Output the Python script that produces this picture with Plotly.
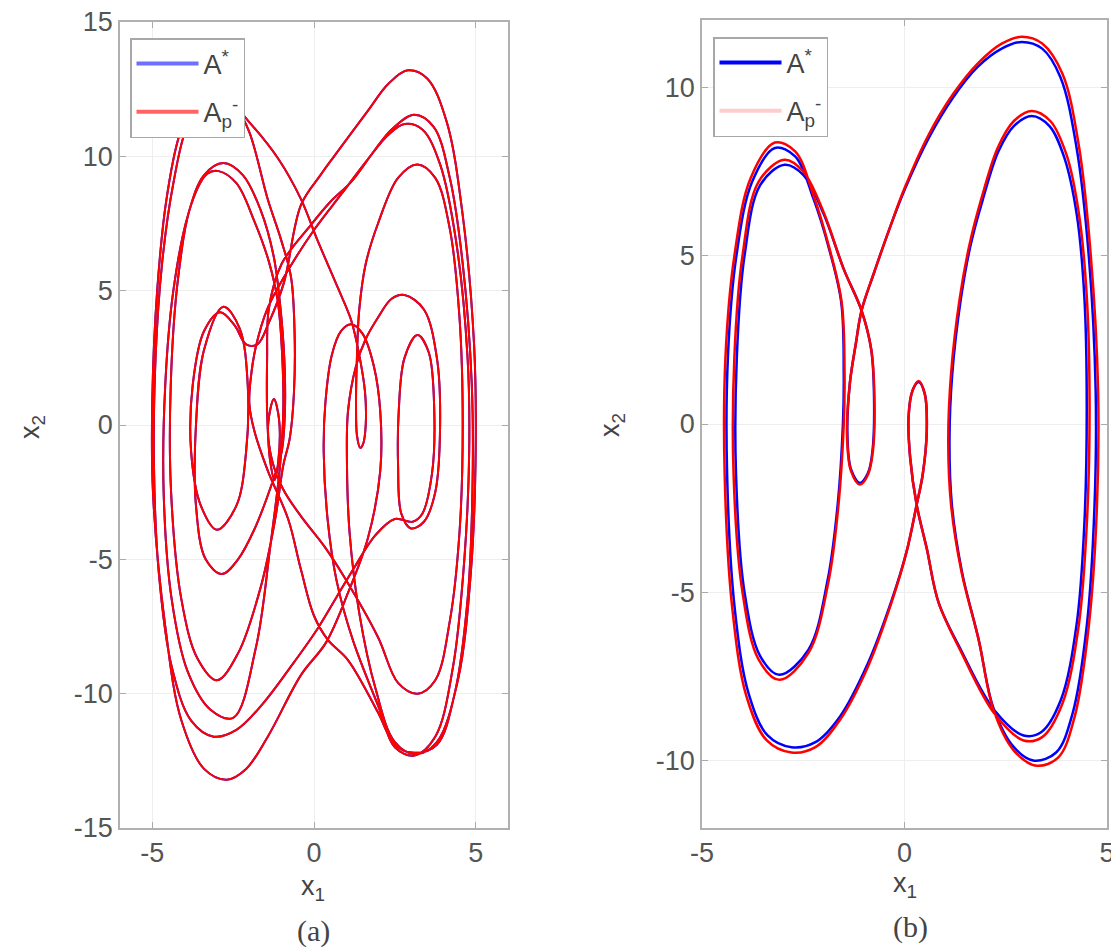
import plotly.graph_objects as go

# ---- panel (a): trajectory, (x1, x2) waypoints ----
# A* and Ap- coincide in (a), the blue curve is hidden under the red one
a_seg1 = [(-3.1, -11.6), (-3.8, -11.0), (-4.4, -9.0), (-4.8, -5.5), (-4.95, -1.5), (-4.9, 2.5),
          (-4.7, 6.0), (-4.35, 9.0), (-3.9, 11.2), (-3.3, 12.2), (-2.6, 12.0), (-1.95, 11.2),
          (-1.1, 9.9), (-0.4, 8.4), (0.1, 6.9), (0.74, 5.1), (1.15, 3.9), (1.4, 2.6), (1.58, 1.2),
          (1.6, 0.0), (1.52, -0.7), (1.43, -0.85), (1.33, -0.4), (1.3, 0.8), (1.33, 2.6),
          (1.4, 4.3), (1.6, 6.0), (1.98, 7.5), (2.6, 9.2), (3.2, 9.7), (3.75, 9.2), (4.2, 7.3),
          (4.5, 4.0), (4.6, 0.0), (4.5, -4.0), (4.2, -7.3), (3.75, -9.5), (3.2, -10.0), (2.6, -9.6)]
a_seg2 = [(1.98, -7.9), (0.93, -5.65), (0.31, -4.5), (-0.4, -3.4), (-0.95, -2.4), (-1.3, -1.3),
          (-1.42, 0.0), (-1.24, 0.97), (-1.08, 0.2), (-1.1, -1.3), (-1.22, -2.05), (-1.36, -1.3),
          (-1.45, 0.5), (-1.45, 2.5), (-1.4, 4.3), (-1.0, 6.0), (-0.1, 7.44), (0.5, 8.3),
          (1.15, 9.05), (1.8, 10.1), (2.4, 11.0), (3.1, 11.55), (3.7, 11.1), (4.2, 9.2),
          (4.6, 6.0), (4.88, 1.5), (4.9, -2.5), (4.75, -6.5), (4.35, -10.0), (3.8, -11.9),
          (3.1, -12.2), (2.5, -11.9)]
a_seg3 = [(1.98, -10.7), (1.05, -8.75), (0.43, -8.0), (0.0, -7.1), (-0.4, -5.4), (-0.8, -3.5),
          (-1.43, -1.7), (-1.85, -0.2), (-2.0, 0.8), (-1.95, 1.8), (-1.8, 2.9), (-1.45, 4.3),
          (-0.93, 5.5), (0.0, 7.26), (0.85, 8.6), (1.67, 9.9), (2.3, 10.8), (2.8, 11.2),
          (3.35, 11.0), (3.9, 9.7), (4.4, 6.8), (4.75, 2.5), (4.8, -1.0), (4.65, -5.0), (4.3, -9.0),
          (3.75, -11.6), (3.1, -12.3), (2.5, -12.0)]
a_seg4 = [(2.0, -10.5), (1.2, -8.0), (0.7, -5.8), (0.42, -3.5), (0.3, -1.0), (0.35, 0.8),
          (0.55, 2.6), (0.84, 3.5), (1.15, 3.75), (1.5, 3.4), (1.85, 2.2), (2.05, 0.5),
          (2.05, -1.7), (1.67, -4.2), (1.05, -6.25), (0.37, -8.1), (-0.4, -9.3), (-1.43, -11.6),
          (-2.1, -12.8), (-2.7, -13.2), (-3.4, -12.8), (-4.1, -11.0), (-4.6, -7.5), (-4.98, -2.5),
          (-5.0, 1.0), (-4.85, 5.0), (-4.55, 8.5), (-4.1, 11.0), (-3.5, 12.2), (-2.9, 12.3),
          (-2.4, 11.8), (-2.0, 10.9), (-1.43, 8.4), (-1.02, 6.9), (-0.71, 5.5), (-0.6, 3.4),
          (-0.62, 1.2), (-0.75, -0.5), (-0.95, -1.5), (-1.2, -3.5), (-1.64, -6.0), (-2.35, -8.5),
          (-3.0, -9.5)]
a_seg5 = [(-3.6, -8.7), (-4.1, -6.5), (-4.42, -2.5), (-4.43, 1.5), (-4.2, 5.5), (-3.8, 8.2),
          (-3.3, 9.35), (-2.95, 9.45), (-2.4, 9.0), (-1.85, 7.6), (-1.4, 6.1), (-1.12, 4.6),
          (-0.98, 2.5), (-0.95, 0.5), (-1.05, -1.5), (-1.35, -4.5), (-1.8, -8.3), (-2.5, -10.9),
          (-3.2, -10.6), (-3.9, -9.2), (-4.4, -6.5), (-4.65, -2.5), (-4.6, 1.5), (-4.35, 5.0),
          (-3.9, 7.8), (-3.4, 9.3), (-2.8, 9.75), (-2.2, 9.3), (-1.65, 8.0), (-1.25, 6.3),
          (-1.05, 4.5), (-0.92, 2.5), (-0.9, 0.5), (-1.0, -1.0), (-1.25, -2.0), (-1.85, -3.9),
          (-2.35, -5.0), (-2.85, -5.55), (-3.35, -5.0), (-3.65, -3.0), (-3.65, 0.0), (-3.4, 2.8),
          (-2.8, 4.4), (-2.3, 3.6), (-2.05, 1.5), (-2.1, -1.0), (-2.4, -3.0), (-3.0, -3.9),
          (-3.5, -3.0), (-3.8, -1.0), (-3.75, 1.5), (-3.4, 3.5), (-2.9, 4.2), (-2.45, 3.7),
          (-2.1, 3.0), (-1.75, 3.0), (-1.4, 3.8), (-0.93, 5.3), (-0.4, 8.2), (0.2, 9.3),
          (0.62, 10.0), (1.67, 11.7), (2.3, 12.7), (2.9, 13.2), (3.5, 12.9), (4.1, 11.3),
          (4.6, 7.8), (4.95, 3.0), (5.0, -1.0), (4.85, -5.5), (4.45, -9.5), (3.8, -11.8),
          (3.15, -12.25), (2.5, -11.8)]
a_seg6 = [(1.9, -9.8), (1.4, -7.0), (1.1, -4.0), (1.02, -1.5), (1.05, 0.5), (1.3, 2.2),
          (1.6, 3.2), (1.98, 4.0), (2.4, 4.7), (2.8, 4.84), (3.4, 4.3), (3.8, 2.5), (3.9, 0.0),
          (3.75, -2.5), (3.4, -3.6), (3.0, -3.85), (2.7, -3.3), (2.6, -1.5), (2.62, 0.5),
          (2.8, 2.5), (3.2, 3.35), (3.55, 2.7), (3.72, 0.5), (3.65, -1.8), (3.35, -3.3),
          (3.05, -3.6), (2.5, -3.5), (1.9, -4.1), (1.3, -5.2), (0.7, -6.4), (0.1, -7.6),
          (-0.6, -8.8), (-1.6, -10.4), (-2.4, -11.35), (-3.1, -11.6)]

# ---- panel (b): periodic orbit ----
b_red = [(-2.96, 7.85), (-2.5, 7.5), (-2.0, 6.3), (-1.5, 4.6), (-1.06, 3.37), (-0.82, 2.2),
         (-0.74, 0.6), (-0.78, -0.8), (-0.9, -1.5), (-1.1, -1.8), (-1.32, -1.4), (-1.42, -0.3),
         (-1.35, 1.2), (-1.2, 2.4), (-1.06, 3.37), (-0.75, 4.5), (-0.4, 5.7), (0.0, 7.0),
         (0.6, 8.6), (1.2, 9.8), (1.8, 10.7), (2.4, 11.3), (2.9, 11.5), (3.4, 11.3), (3.9, 10.4),
         (4.3, 8.3), (4.6, 5.0), (4.78, 1.0), (4.75, -2.5), (4.55, -6.0), (4.2, -8.7),
         (3.8, -9.9), (3.26, -10.15), (2.7, -9.7), (2.2, -8.5), (1.83, -6.4), (1.41, -4.4),
         (1.15, -2.4), (1.08, -0.5), (1.15, 1.5), (1.36, 3.7), (1.6, 5.3), (1.9, 6.7), (2.3, 8.2),
         (2.7, 9.0), (3.14, 9.3), (3.6, 9.0), (4.0, 8.0), (4.3, 6.3), (4.5, 3.8), (4.57, 0.5),
         (4.5, -3.0), (4.3, -6.0), (3.9, -8.3), (3.4, -9.3), (2.94, -9.4), (2.22, -8.6),
         (1.41, -6.8), (0.84, -5.3), (0.55, -3.7), (0.3, -2.4), (0.14, -1.0), (0.1, 0.2),
         (0.2, 1.0), (0.35, 1.28), (0.5, 0.9), (0.55, -0.2), (0.45, -1.5), (0.3, -2.4),
         (0.05, -3.8), (-0.32, -5.3), (-0.9, -7.2), (-1.6, -8.8), (-2.2, -9.6), (-2.79, -9.76),
         (-3.4, -9.4), (-3.9, -8.1), (-4.25, -5.5), (-4.44, -1.5), (-4.42, 2.0), (-4.2, 5.0),
         (-3.8, 7.3), (-3.2, 8.36), (-2.7, 8.1), (-2.25, 6.8), (-1.85, 5.2), (-1.55, 3.6),
         (-1.48, 1.5), (-1.5, 0.0), (-1.63, -2.4), (-1.88, -4.7), (-2.37, -6.8), (-3.09, -7.6),
         (-3.6, -7.0), (-4.0, -5.0), (-4.22, -1.5), (-4.2, 2.0), (-4.0, 5.0), (-3.6, 7.2),
         (-2.96, 7.85)]
b_blue = [(-2.96, 7.7), (-2.5, 7.4), (-2.0, 6.25), (-1.5, 4.6), (-1.06, 3.37), (-0.82, 2.2),
          (-0.75, 0.6), (-0.79, -0.8), (-0.9, -1.45), (-1.1, -1.75), (-1.32, -1.35), (-1.41, -0.3),
          (-1.35, 1.2), (-1.2, 2.4), (-1.06, 3.37), (-0.75, 4.5), (-0.4, 5.7), (0.0, 6.95),
          (0.6, 8.5), (1.2, 9.7), (1.8, 10.6), (2.4, 11.15), (2.9, 11.35), (3.4, 11.15),
          (3.85, 10.3), (4.25, 8.2), (4.55, 5.0), (4.72, 1.0), (4.69, -2.5), (4.5, -6.0),
          (4.15, -8.6), (3.75, -9.75), (3.2, -10.0), (2.7, -9.6), (2.2, -8.45), (1.83, -6.4),
          (1.42, -4.4), (1.17, -2.4), (1.11, -0.5), (1.18, 1.5), (1.39, 3.7), (1.63, 5.3),
          (1.93, 6.65), (2.32, 8.1), (2.7, 8.85), (3.14, 9.15), (3.58, 8.85), (3.95, 7.9),
          (4.25, 6.25), (4.44, 3.8), (4.5, 0.5), (4.44, -3.0), (4.25, -5.95), (3.86, -8.2),
          (3.38, -9.15), (2.94, -9.25), (2.22, -8.5), (1.41, -6.75), (0.84, -5.3), (0.55, -3.7),
          (0.3, -2.4), (0.14, -1.0), (0.1, 0.2), (0.2, 1.0), (0.35, 1.25), (0.5, 0.9),
          (0.55, -0.2), (0.45, -1.5), (0.3, -2.4), (0.05, -3.8), (-0.32, -5.25), (-0.9, -7.1),
          (-1.6, -8.7), (-2.2, -9.45), (-2.79, -9.6), (-3.38, -9.25), (-3.85, -8.0),
          (-4.19, -5.5), (-4.38, -1.5), (-4.36, 2.0), (-4.15, 5.0), (-3.76, 7.2), (-3.2, 8.2),
          (-2.7, 7.95), (-2.25, 6.7), (-1.85, 5.15), (-1.56, 3.6), (-1.5, 1.5), (-1.52, 0.0),
          (-1.65, -2.4), (-1.9, -4.65), (-2.37, -6.7), (-3.09, -7.45), (-3.56, -6.9),
          (-3.95, -5.0), (-4.16, -1.5), (-4.14, 2.0), (-3.95, 5.0), (-3.56, 7.1), (-2.96, 7.7)]

a_xticks = [-5, 0, 5]
a_yticks = [-15, -10, -5, 0, 5, 10, 15]
b_xticks = [-5, 0, 5]
b_yticks = [-10, -5, 0, 5, 10]

a_pts = a_seg1 + a_seg2 + a_seg3 + a_seg4 + a_seg5 + a_seg6
a_x1 = [p[0] for p in a_pts]
a_x2 = [p[1] for p in a_pts]

# the page body has an 8 px margin, so the figure is 8 px smaller and positions are shifted
OFF = 8
W, H = 1119 - OFF, 952 - OFF


def fx(px):
    return (px - OFF) / W


def fy(py):
    return 1 - (py - OFF) / H


FONT = "Liberation Sans, Arial, sans-serif"
TICKC = "#555555"

fig = go.Figure()

# panel (a)
fig.add_trace(go.Scatter(x=a_x1, y=a_x2, mode="lines", showlegend=False,
                         line=dict(color="blue", width=2, shape="spline", smoothing=1),
                         xaxis="x", yaxis="y"))
fig.add_trace(go.Scatter(x=a_x1, y=a_x2, mode="lines", showlegend=False,
                         line=dict(color="red", width=2, shape="spline", smoothing=1),
                         xaxis="x", yaxis="y"))
# panel (b)
fig.add_trace(go.Scatter(x=[p[0] for p in b_blue], y=[p[1] for p in b_blue], mode="lines",
                         showlegend=False,
                         line=dict(color="blue", width=2.5, shape="spline", smoothing=1),
                         xaxis="x2", yaxis="y2"))
fig.add_trace(go.Scatter(x=[p[0] for p in b_red], y=[p[1] for p in b_red], mode="lines",
                         showlegend=False,
                         line=dict(color="red", width=2.5, shape="spline", smoothing=1),
                         xaxis="x2", yaxis="y2"))

# legend entries
legend_items = [
    ("legend", "x", "y", "A<sup>*</sup>", "#6f6fff", "g1"),
    ("legend", "x", "y", "A<sub>p</sub><sup>-</sup>", "#ff6464", "g2"),
    ("legend2", "x2", "y2", "A<sup>*</sup>", "#0000ff", "g3"),
    ("legend2", "x2", "y2", "A<sub>p</sub><sup>-</sup>", "#ffcccc", "g4"),
]
for leg, xa, ya, name, col, grp in legend_items:
    fig.add_trace(go.Scatter(x=[None], y=[None], mode="lines", name=name, legend=leg,
                             legendgroup=grp, line=dict(color=col, width=4),
                             xaxis=xa, yaxis=ya))


def axis_style(rng, ticks, domain, anchor):
    return dict(domain=domain, range=rng, anchor=anchor, tickvals=ticks,
                ticktext=[str(t) for t in ticks], ticks="inside", ticklen=6,
                tickcolor="#aaaaaa", showline=True, linecolor="#b0b0b0", linewidth=1.5,
                mirror="ticks", showgrid=True, gridcolor="#eeeeee", gridwidth=1,
                zeroline=False, automargin=False, ticklabeloverflow="allow",
                tickfont=dict(family=FONT, size=27, color=TICKC))


legend_common = dict(xanchor="left", yanchor="top", bgcolor="white", bordercolor="#a8a8a8",
                     borderwidth=1.5, font=dict(family=FONT, size=27, color="#444444"),
                     itemwidth=62, tracegroupgap=10, traceorder="grouped")

fig.update_layout(
    width=W, height=H, margin=dict(l=0, r=0, t=0, b=0, autoexpand=False),
    paper_bgcolor="white", plot_bgcolor="white",
    xaxis=axis_style([-6, 6], a_xticks, [fx(120), fx(508)], "y"),
    yaxis=axis_style([-15, 15], a_yticks, [fy(828), fy(22)], "x"),
    xaxis2=axis_style([-5, 5], b_xticks, [fx(702), fx(1107)], "y2"),
    yaxis2=axis_style([-12, 12], b_yticks, [fy(828), fy(20)], "x2"),
    legend=dict(x=fx(130), y=fy(38), **legend_common),
    legend2=dict(x=fx(713), y=fy(37), **legend_common),
)

labels = [
    (313, 888, "x<sub>1</sub>", 0, FONT, 27),
    (32, 427, "x<sub>2</sub>", -90, FONT, 27),
    (313, 931, "(a)", 0, "Liberation Serif, Times New Roman, serif", 30),
    (905, 885, "x<sub>1</sub>", 0, FONT, 27),
    (612, 425, "x<sub>2</sub>", -90, FONT, 27),
    (910, 927, "(b)", 0, "Liberation Serif, Times New Roman, serif", 30),
]
for px, py, txt, ang, fam, sz in labels:
    fig.add_annotation(x=fx(px), y=fy(py), xref="paper", yref="paper", text=txt,
                       showarrow=False, textangle=ang, xanchor="center", yanchor="middle",
                       font=dict(family=fam, size=sz, color="#444444"))

fig.write_html("out.html")
